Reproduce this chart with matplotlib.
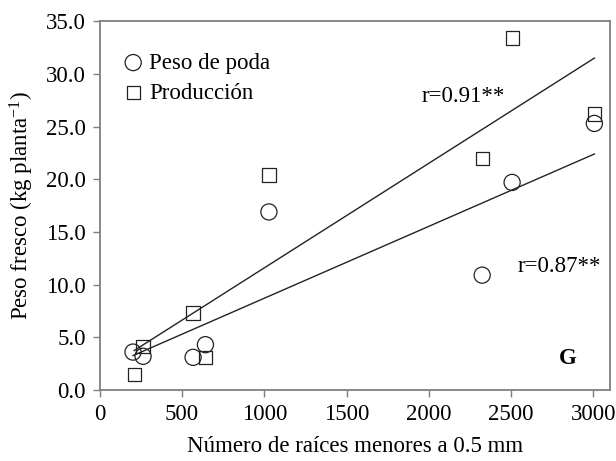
import matplotlib
matplotlib.use("Agg")
import matplotlib.pyplot as plt
import numpy as np

plt.rcParams['font.family'] = ['Liberation Serif', 'DejaVu Serif']
plt.rcParams['mathtext.fontset'] = 'custom'
plt.rcParams['mathtext.rm'] = 'Liberation Serif'
plt.rcParams['mathtext.it'] = 'Liberation Serif:italic'

# datos
raices_poda = [202, 263, 567, 642, 1028, 2324, 2506, 3006]
peso_poda = [3.6, 3.2, 3.1, 4.3, 16.9, 10.9, 19.7, 25.3]
raices_prod = [209, 263, 567, 642, 1028, 2324, 2506, 3006]
produccion = [1.5, 4.1, 7.3, 3.1, 20.4, 22.0, 33.4, 26.2]
xticks = [0, 500, 1000, 1500, 2000, 2500, 3000]
yticks = [0, 5, 10, 15, 20, 25, 30, 35]

gris = '#7f7f7f'
fs = 16.5

fig = plt.figure(figsize=(6.16, 4.61), dpi=100)
ax = fig.add_axes([0.162, 0.154, 0.828, 0.8])

ax.scatter(raices_poda, peso_poda, s=135, facecolors='none', edgecolors='#222222',
           linewidths=0.9, marker='o', label='Peso de poda', zorder=3)
ax.scatter(raices_prod, produccion, s=90, facecolors='none', edgecolors='#222222',
           linewidths=0.9, marker='s', label='Producción', zorder=3)

# rectas de regresion
for xs, ys in [(raices_poda, peso_poda), (raices_prod, produccion)]:
    xs = np.array(xs, dtype=float)
    m, b = np.polyfit(xs, ys, 1)
    xx = np.array([xs.min(), xs.max()])
    ax.plot(xx, m * xx + b, color='#222222', lw=1.0, zorder=2)

ax.text(1955, 27.9, 'r=0.91**', fontsize=fs, va='center', ha='left')
ax.text(2538, 11.7, 'r=0.87**', fontsize=fs, va='center', ha='left')
ax.text(2842, 3.0, 'G', fontsize=fs, fontweight='bold', va='center', ha='center')

ax.set_xlim(0, 3100)
ax.set_ylim(0, 35)
ax.set_xticks(xticks)
ax.set_yticks(yticks)
ax.set_yticklabels(['%.1f' % v for v in yticks])
ax.tick_params(direction='out', length=5, width=1.0, color=gris, labelsize=fs, pad=5)
for s in ax.spines.values():
    s.set_color(gris)
    s.set_linewidth(1.3)

ax.set_xlabel('Número de raíces menores a 0.5 mm', fontsize=fs)
ax.xaxis.set_label_coords(0.5, -0.125)
ax.set_ylabel('Peso fresco (kg planta$^{-1}$)', fontsize=fs)
ax.yaxis.set_label_coords(-0.125, 0.5)

ax.legend(loc='upper left', frameon=False, fontsize=fs, handletextpad=0.2,
          handlelength=1.0, borderpad=0, borderaxespad=0, labelspacing=0.4,
          bbox_to_anchor=(0.043, 0.915))

fig.savefig('out.png', dpi=100)
